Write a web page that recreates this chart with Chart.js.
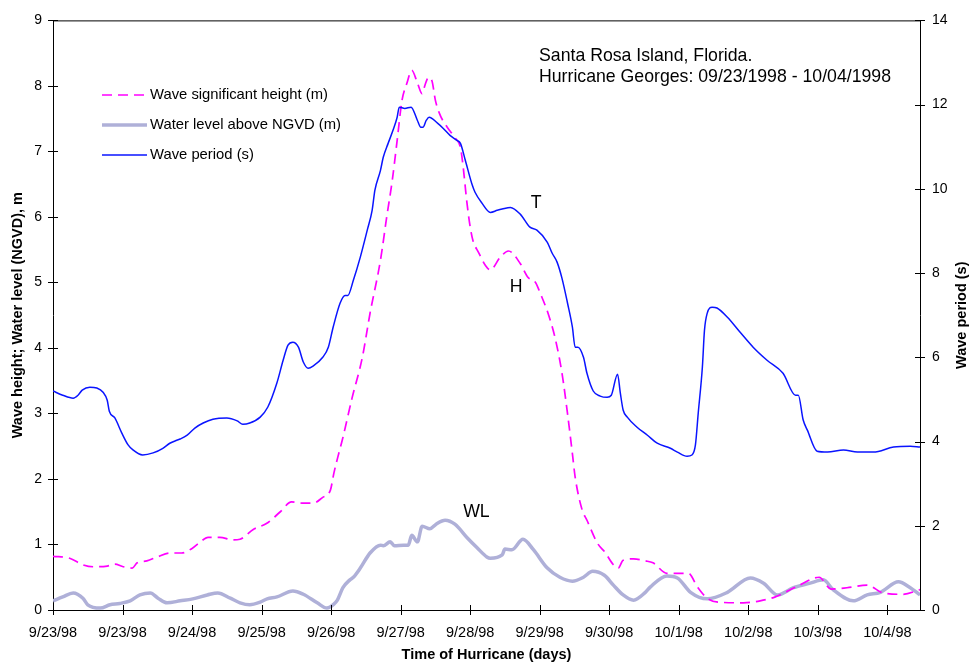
<!DOCTYPE html>
<html>
<head>
<meta charset="utf-8">
<script src="https://cdn.jsdelivr.net/npm/chart.js@4.4.1/dist/chart.umd.min.js"></script>
<style>
html,body{margin:0;padding:0;background:#fff;}
#wrap{width:969px;height:662px;position:relative;}
canvas{display:block;}
</style>
</head>
<body>
<div id="wrap"><canvas id="c" width="969" height="662"></canvas></div>
<script>
// ---- tick labels (x axis, one per tick interval) ----
const tickLabels = ['9/23/98','9/23/98','9/24/98','9/25/98','9/26/98','9/27/98','9/28/98','9/29/98','9/30/98','10/1/98','10/2/98','10/3/98','10/4/98'];
const xMax = 12.47;

// ---- Wave period T (s), right axis ----
const timeT = [0.00,0.14,0.29,0.36,0.42,0.53,0.63,0.72,0.78,0.81,
  0.89,0.99,1.08,1.15,1.29,1.44,1.58,1.68,1.78,1.83,
  1.93,2.04,2.16,2.30,2.50,2.65,2.73,2.83,2.98,3.09,
  3.22,3.31,3.38,3.45,3.53,3.60,3.67,3.74,3.88,3.96,
  4.03,4.13,4.20,4.24,4.32,4.42,4.52,4.59,4.63,4.71,
  4.75,4.82,4.89,4.95,4.98,5.06,5.15,5.24,5.29,5.32,
  5.37,5.41,5.53,5.61,5.71,5.81,5.86,5.93,6.03,6.07,
  6.17,6.29,6.39,6.46,6.58,6.72,6.86,6.96,7.11,7.18,
  7.25,7.32,7.40,7.47,7.51,7.55,7.63,7.68,7.77,7.87,
  7.97,8.03,8.12,8.16,8.20,8.26,8.40,8.55,8.69,8.88,
  8.98,9.12,9.19,9.24,9.28,9.34,9.37,9.41,9.48,9.55,
  9.70,9.88,10.07,10.27,10.50,10.68,10.72,10.79,10.85,10.99,
  11.14,11.37,11.57,11.80,12.09,12.33,12.47];
const periodT = [5.20,5.10,5.03,5.10,5.22,5.29,5.27,5.17,4.98,4.72,
  4.56,4.20,3.92,3.80,3.68,3.73,3.84,3.96,4.03,4.06,
  4.15,4.32,4.44,4.53,4.56,4.49,4.41,4.44,4.58,4.82,
  5.39,5.93,6.29,6.36,6.24,5.89,5.74,5.79,6.00,6.24,
  6.72,7.29,7.47,7.47,7.83,8.38,9.02,9.49,9.97,10.44,
  10.75,11.08,11.39,11.70,11.94,11.91,11.94,11.63,11.46,11.46,
  11.63,11.70,11.56,11.44,11.27,11.15,11.08,10.68,10.09,9.92,
  9.66,9.44,9.49,9.52,9.56,9.40,9.09,9.02,8.73,8.47,
  8.26,7.88,7.29,6.72,6.24,6.24,6.00,5.62,5.20,5.08,
  5.05,5.10,5.60,5.15,4.75,4.58,4.34,4.15,3.96,3.84,
  3.75,3.65,3.68,3.92,4.67,5.77,6.64,7.05,7.19,7.17,
  6.95,6.60,6.24,5.93,5.62,5.10,5.10,4.51,4.27,3.77,
  3.75,3.80,3.75,3.75,3.87,3.89,3.87];

// ---- Wave significant height H (m), left axis ----
const timeH = [0.00,0.24,0.43,0.58,0.78,0.89,1.01,1.14,1.21,1.35,
  1.50,1.68,1.85,2.00,2.12,2.23,2.40,2.59,2.69,2.88,
  3.07,3.27,3.43,3.60,3.74,3.88,3.99,4.04,4.11,4.16,
  4.30,4.45,4.56,4.71,4.80,4.88,4.95,5.02,5.09,5.16,
  5.24,5.31,5.35,5.40,5.45,5.50,5.57,5.67,5.78,5.86,
  5.90,5.95,6.00,6.04,6.12,6.22,6.29,6.43,6.55,6.72,
  6.83,6.94,7.01,7.12,7.22,7.32,7.40,7.47,7.51,7.61,
  7.68,7.83,7.94,8.06,8.13,8.20,8.35,8.52,8.63,8.83,
  9.14,9.27,9.41,9.57,9.93,10.17,10.39,10.72,11.02,11.19,
  11.42,11.71,11.94,12.23,12.47];
const heightH = [0.82,0.79,0.69,0.66,0.67,0.70,0.66,0.64,0.72,0.75,
  0.81,0.87,0.87,0.94,1.04,1.11,1.11,1.07,1.08,1.23,
  1.32,1.50,1.65,1.63,1.63,1.72,1.83,2.09,2.39,2.59,
  3.23,3.86,4.53,5.34,6.00,6.56,7.17,7.78,8.04,8.24,
  8.05,7.88,8.01,8.13,8.08,7.78,7.55,7.37,7.21,7.06,
  6.76,6.25,5.85,5.64,5.46,5.26,5.19,5.38,5.48,5.29,
  5.08,5.00,4.83,4.53,4.16,3.62,3.00,2.39,2.03,1.53,
  1.37,1.02,0.88,0.69,0.64,0.76,0.78,0.75,0.72,0.56,
  0.56,0.35,0.18,0.12,0.11,0.14,0.20,0.37,0.50,0.32,
  0.34,0.38,0.26,0.24,0.31];

// ---- Water level above NGVD WL (m), left axis ----
const timeWL = [0.00,0.14,0.29,0.43,0.50,0.68,0.82,0.96,1.11,1.25,
  1.40,1.51,1.64,1.83,2.01,2.22,2.37,2.55,2.69,2.83,
  2.98,3.08,3.22,3.45,3.60,3.80,3.94,4.04,4.09,4.17,
  4.27,4.32,4.42,4.56,4.71,4.75,4.85,4.91,5.04,5.11,
  5.16,5.24,5.31,5.42,5.51,5.64,5.78,5.96,6.10,6.24,
  6.29,6.46,6.50,6.60,6.76,6.91,7.11,7.29,7.47,7.63,
  7.76,7.93,8.06,8.20,8.35,8.52,8.59,8.83,8.98,9.17,
  9.41,9.70,10.03,10.22,10.42,10.65,10.89,11.08,11.22,11.51,
  11.71,11.90,12.16,12.33,12.47];
const levelWL = [0.14,0.20,0.26,0.18,0.08,0.03,0.08,0.10,0.14,0.23,
  0.26,0.18,0.11,0.14,0.17,0.23,0.26,0.18,0.11,0.08,
  0.12,0.17,0.20,0.29,0.24,0.11,0.03,0.09,0.15,0.34,
  0.46,0.50,0.64,0.87,0.99,0.98,1.04,0.98,0.99,0.99,
  1.14,1.04,1.28,1.24,1.31,1.37,1.31,1.10,0.95,0.81,
  0.79,0.84,0.93,0.92,1.08,0.92,0.64,0.50,0.44,0.50,
  0.59,0.53,0.38,0.23,0.15,0.27,0.35,0.52,0.49,0.27,
  0.17,0.27,0.49,0.41,0.23,0.34,0.41,0.46,0.31,0.14,
  0.23,0.27,0.43,0.34,0.23];

const zip = (xs, ys) => xs.map((x, i) => ({x: x, y: ys[i]}));
const FONT = "'Liberation Sans', Arial, Helvetica, sans-serif";

const decorPlugin = {
  id: 'decor',
  afterDraw(chart) {
    const ctx = chart.ctx;
    const a = chart.chartArea;
    const sx = chart.scales.x, sy = chart.scales.y, sy2 = chart.scales.y2;
    ctx.save();
    // frame
    ctx.strokeStyle = '#000';
    ctx.lineWidth = 1;
    ctx.beginPath();
    ctx.moveTo(a.left + 0.5, a.top + 0.5);
    ctx.lineTo(a.right + 0.5, a.top + 0.5);
    ctx.stroke();
    // crossing tick marks
    ctx.beginPath();
    sx.ticks.forEach(t => {
      const px = Math.round(sx.getPixelForValue(t.value)) + 0.5;
      ctx.moveTo(px, a.bottom - 5); ctx.lineTo(px, a.bottom + 5);
    });
    sy.ticks.forEach(t => {
      const py = Math.round(sy.getPixelForValue(t.value)) + 0.5;
      ctx.moveTo(a.left - 5, py); ctx.lineTo(a.left + 5, py);
    });
    sy2.ticks.forEach(t => {
      const py = Math.round(sy2.getPixelForValue(t.value)) + 0.5;
      ctx.moveTo(a.right - 5, py); ctx.lineTo(a.right + 5, py);
    });
    ctx.stroke();

    // legend (inside plot)
    const ds = chart.data.datasets;
    const legendOrder = [1, 2, 0];
    const rows = [95, 125, 155];
    ctx.font = '14.8px ' + FONT;
    ctx.textAlign = 'left';
    ctx.textBaseline = 'middle';
    legendOrder.forEach((di, r) => {
      const d = ds[di];
      const y = rows[r];
      ctx.save();
      ctx.strokeStyle = d.borderColor;
      ctx.lineWidth = d.borderWidth;
      ctx.setLineDash(d.borderDash || []);
      ctx.beginPath();
      ctx.moveTo(102, y); ctx.lineTo(147, y);
      ctx.stroke();
      ctx.restore();
      ctx.fillStyle = '#000';
      ctx.fillText(d.label, 150, y);
    });

    // title lines
    ctx.fillStyle = '#000';
    ctx.font = '17.7px ' + FONT;
    ctx.textBaseline = 'alphabetic';
    ctx.fillText('Santa Rosa Island, Florida.', 539, 61);
    ctx.fillText('Hurricane Georges: 09/23/1998 - 10/04/1998', 539, 82);

    // series annotations
    ctx.textAlign = 'center';
    ctx.textBaseline = 'middle';
    ctx.fillText('T', sx.getPixelForValue(6.95), sy2.getPixelForValue(9.66));
    ctx.fillText('H', sx.getPixelForValue(6.66), sy.getPixelForValue(4.93));
    ctx.fillText('WL', sx.getPixelForValue(6.09), sy.getPixelForValue(1.49));

    // right axis title (reads bottom to top)
    ctx.save();
    ctx.font = 'bold 14.5px ' + FONT;
    ctx.translate(962, (a.top + a.bottom) / 2);
    ctx.rotate(-Math.PI / 2);
    ctx.fillText('Wave period (s)', 0, 0);
    ctx.restore();
    ctx.restore();
  }
};

new Chart(document.getElementById('c'), {
  type: 'line',
  data: {
    datasets: [
      { label: 'Wave period (s)', data: zip(timeT, periodT), yAxisID: 'y2',
        borderColor: '#0a14ff', borderWidth: 1.5, pointRadius: 0,
        cubicInterpolationMode: 'monotone', fill: false },
      { label: 'Wave significant height (m)', data: zip(timeH, heightH), yAxisID: 'y',
        borderColor: '#ff00ff', borderWidth: 1.7, borderDash: [10, 6], pointRadius: 0,
        cubicInterpolationMode: 'monotone', fill: false },
      { label: 'Water level above NGVD (m)', data: zip(timeWL, levelWL), yAxisID: 'y',
        borderColor: '#afb0d8', borderWidth: 3.5, pointRadius: 0,
        cubicInterpolationMode: 'monotone', fill: false }
    ]
  },
  options: {
    responsive: false,
    animation: false,
    devicePixelRatio: 1,
    layout: { padding: { top: 20, left: 0, right: 0, bottom: 0 } },
    plugins: { legend: { display: false }, tooltip: { enabled: false } },
    scales: {
      x: {
        type: 'linear', min: 0, max: xMax,
        afterBuildTicks: s => { s.ticks = tickLabels.map((_, i) => ({ value: i })); },
        afterFit: s => { s.height = 52; },
        grid: { display: false, drawTicks: false },
        border: { display: true, color: '#000', width: 1 },
        ticks: { autoSkip: false, maxRotation: 0, padding: 14, color: '#000',
          font: { family: FONT, size: 14.5 },
          callback: v => tickLabels[Math.round(v)] },
        title: { display: true, text: 'Time of Hurricane (days)', color: '#000',
          font: { family: FONT, size: 14.5, weight: 'bold', lineHeight: 1 },
          padding: { top: 0, bottom: 0 } }
      },
      y: {
        position: 'left', min: 0, max: 9,
        afterFit: s => { s.width = 53; },
        grid: { display: false, drawTicks: false },
        border: { display: true, color: '#000', width: 1 },
        ticks: { stepSize: 1, padding: 11, color: '#000', font: { family: FONT, size: 14 } },
        title: { display: true, text: 'Wave height; Water level (NGVD), m', color: '#000',
          font: { family: FONT, size: 14.5, weight: 'bold', lineHeight: 1 },
          padding: { top: 11, bottom: 0 } }
      },
      y2: {
        position: 'right', min: 0, max: 14,
        afterFit: s => { s.width = 49; },
        grid: { display: false, drawTicks: false },
        border: { display: true, color: '#000', width: 1 },
        ticks: { stepSize: 2, padding: 12, color: '#000', font: { family: FONT, size: 14 } }
      }
    }
  },
  plugins: [decorPlugin]
});
</script>
</body>
</html>
